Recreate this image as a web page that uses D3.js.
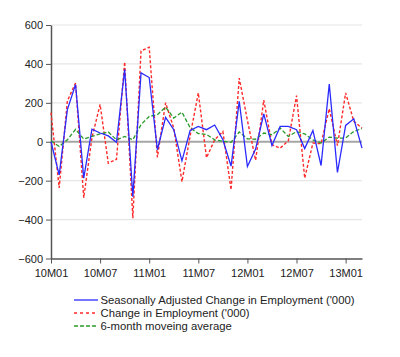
<!DOCTYPE html>
<html>
<head>
<meta charset="utf-8">
<script src="https://cdn.jsdelivr.net/npm/d3@7"></script>
<style>
  html, body { margin: 0; padding: 0; background: #fff; }
  svg { display: block; font-family: "Liberation Sans", Arial, sans-serif; }
</style>
</head>
<body>
<svg id="chart" width="400" height="357"></svg>
<script>
const months = [];
const yrs = ["10", "11", "12", "13"];
for (const yy of yrs) for (let m = 1; m <= 12; m++) months.push(yy + "M" + String(m).padStart(2, "0"));
const categories = months.slice(0, 39); // 10M01 .. 13M03

const saChange = [0, -170, 165, 294, -187, 65, 45, 30, -3, 372,
  -282, 354, 330, -41, 125, 62, -98, 58, 79, 62,
  86, 10, -125, 208, -127, -38, 143, -19, 79, 79,
  62, -35, 58, -122, 297, -158, 84, 118, -33];

const change = [150, -237, 210, 302, -288, 20, 192, -110, -90, 410,
  -393, 467, 486, -80, 200, 70, -205, 30, 251, -82,
  10, 53, -247, 327, 110, -95, 214, -15, -33, 5,
  237, -187, -7, -10, 170, -20, 251, 105, 70];

const movAvg = [5, -24, 10, 64, 14, 28, 40, 50, 10, 27,
  10, 88, 130, 139, 178, 122, 152, 72, 42, 38,
  10, 2, -3, 50, 15, 13, 45, 36, 70, 27,
  52, 40, 10, -7, 24, 19, 19, 53, 68];

const xTickLabels = ["10M01", "10M07", "11M01", "11M07", "12M01", "12M07", "13M01"];
const yTicks = [-600, -400, -200, 0, 200, 400, 600];
const seriesNames = ["Seasonally Adjusted Change in Employment ('000)", "Change in Employment ('000)", "6-month moveing average"];

(function () {
const svg = d3.select("#chart");
const mLeft = 51, mRight = 362, mTop = 25, mBottom = 258.5;

const x = d3.scalePoint().domain(categories).range([mLeft, mRight]);
const y = d3.scaleLinear().domain([-600, 600]).range([mBottom, mTop]);

// gridlines
svg.append("g").selectAll("line").data(yTicks.filter(d => d !== 0 && d !== -600))
  .join("line")
  .attr("x1", mLeft).attr("x2", mRight)
  .attr("y1", d => y(d)).attr("y2", d => y(d))
  .attr("stroke", "#e6e6e6").attr("stroke-width", 1.2);

// zero line
svg.append("line").attr("x1", mLeft).attr("x2", mRight)
  .attr("y1", y(0)).attr("y2", y(0))
  .attr("stroke", "#a6a6a6").attr("stroke-width", 1.8);

// y axis
const yAxis = d3.axisLeft(y).tickValues(yTicks).tickSize(5).tickPadding(3).tickSizeOuter(0);
const gy = svg.append("g").attr("transform", `translate(${mLeft},0)`).call(yAxis);
gy.select(".domain").attr("stroke", "#555").attr("stroke-width", 1.5);
gy.selectAll(".tick line").attr("stroke", "#555");
gy.selectAll("text").attr("font-size", 11).attr("fill", "#222")
  .attr("font-family", "'Liberation Sans', Arial, sans-serif");

// x axis
const xAxis = d3.axisBottom(x).tickValues(xTickLabels).tickSize(5).tickPadding(5.5).tickSizeOuter(0);
const gx = svg.append("g").attr("transform", `translate(0,${mBottom})`).call(xAxis);
gx.select(".domain").attr("stroke", "#555").attr("stroke-width", 1.5);
gx.selectAll(".tick line").attr("stroke", "#555");
gx.selectAll("text").attr("font-size", 11).attr("fill", "#222")
  .attr("font-family", "'Liberation Sans', Arial, sans-serif");

const line = d3.line().x((d, i) => x(categories[i])).y(d => y(d));

const styles = [
  { data: change, color: "#ff2a2a", dash: "3,2", width: 1.4 },
  { data: movAvg, color: "#2a9a2a", dash: "4,2", width: 1.3 },
  { data: saChange, color: "#2a2aff", dash: null, width: 1.3 }
];
styles.forEach(s => {
  svg.append("path").datum(s.data)
    .attr("d", line)
    .attr("fill", "none")
    .attr("stroke", s.color)
    .attr("stroke-width", s.width)
    .attr("stroke-dasharray", s.dash);
});

// legend
const legendStyles = [
  { color: "#2a2aff", dash: null },
  { color: "#ff2a2a", dash: "3,3" },
  { color: "#2a9a2a", dash: "4,2" }
];
const lg = svg.append("g");
seriesNames.forEach((name, i) => {
  const ly = 300 + i * 13;
  lg.append("line").attr("x1", 74).attr("x2", 98).attr("y1", ly).attr("y2", ly)
    .attr("stroke", legendStyles[i].color).attr("stroke-width", 1.3)
    .attr("stroke-dasharray", legendStyles[i].dash);
  lg.append("text").attr("x", 100.5).attr("y", ly + 4).attr("font-size", 11.3)
    .attr("fill", "#222").text(name);
});
})();
</script>
</body>
</html>
